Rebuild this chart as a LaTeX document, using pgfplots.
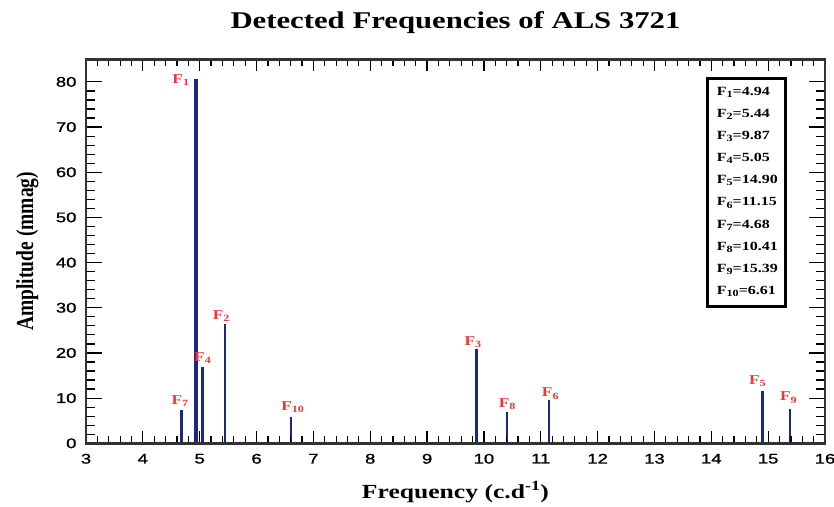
\documentclass[border=0pt]{standalone}
\usepackage{fontspec}
\setmainfont{Liberation Serif}[FakeStretch=1.28]
\newfontfamily\plainserif{Liberation Serif}
\newfontfamily\tickfont{Liberation Sans}[FakeStretch=1.32,FakeBold=1.2]
\usepackage{graphicx}
\usepackage{pgfplots}
\pgfplotsset{compat=1.18}
\definecolor{barblue}{RGB}{25,40,130}
\definecolor{labred}{RGB}{235,55,55}
\newcommand{\sub}[1]{\raisebox{-0.35ex}{\fontsize{9.5}{10}\selectfont #1}}
\tikzset{
  lab/.style={font=\bfseries\fontsize{13.5}{14}\selectfont, text=labred, inner sep=0pt},
  leg/.style={font=\bfseries\fontsize{12.5}{13}\selectfont, inner sep=0pt, anchor=base west},
}
\begin{document}
\begin{tikzpicture}
\path[use as bounding box] (-86pt,-62.7pt) rectangle (748pt,443.3pt);
\begin{axis}[
  at={(0pt,0pt)}, anchor=south west,
  scale only axis, width=739pt, height=384pt,
  xmin=3, xmax=16, ymin=0, ymax=85,
  xtick={3,4,...,16}, ytick={0,10,...,80},
  minor x tick num=4, minor y tick num=4,
  tick align=inside,
  axis on top,
  axis line style={line width=2.5pt, black!80},
  every tick/.style={black, line width=1.2pt},
  xtick style={/pgfplots/major tick length=12pt,/pgfplots/minor tick length=7pt},
  ytick style={/pgfplots/major tick length=16pt,/pgfplots/minor tick length=9pt},
  /pgf/number format/assume math mode=true,
  ticklabel style={font=\tickfont\fontsize{14}{14}\selectfont},
  xticklabel style={yshift=-7pt},
  yticklabel style={xshift=-6pt},
  title={Detected Frequencies of ALS 3721},
  title style={font=\bfseries\fontsize{24}{26}\selectfont, at={(axis description cs:0.5,1)}, anchor=base, yshift=24.5pt},
  xlabel={Frequency (c.d\textsuperscript{-1})},
  xlabel style={font=\bfseries\fontsize{20}{22}\selectfont, at={(axis description cs:0.5,0)}, anchor=base, yshift=-54.7pt},
  ylabel={\scalebox{1}[1.25]{Amplitude (mmag)}},
  ylabel style={font=\plainserif\bfseries\fontsize{19.5}{21}\selectfont, at={(axis description cs:-0.0717,0.5)}, anchor=base},
]
\addplot[ycomb, barblue, line width=4pt] coordinates {(4.94,80.6)};
\addplot[ycomb, barblue, line width=3.3pt] coordinates {(4.68,7.4)};
\addplot[ycomb, barblue, line width=2.3pt] coordinates {
  (5.44,26.4) (9.87,20.9) (5.05,16.9) (14.90,11.6) (11.15,9.5)
  (10.41,6.9) (15.39,7.5) (6.61,5.9)};

\node[lab, anchor=south east, xshift=-7pt, yshift=-7pt] at (axis cs:4.94,80.6) {F\sub{1}};
\node[lab, anchor=south, xshift=-3.5pt, yshift=2pt] at (axis cs:5.44,26.4) {F\sub{2}};
\node[lab, anchor=south, xshift=-3.7pt, yshift=1pt] at (axis cs:9.87,20.9) {F\sub{3}};
\node[lab, anchor=south, xshift=0pt, yshift=3pt] at (axis cs:5.05,16.9) {F\sub{4}};
\node[lab, anchor=south, xshift=-5pt, yshift=4pt] at (axis cs:14.90,11.6) {F\sub{5}};
\node[lab, anchor=south, xshift=1pt, yshift=1pt] at (axis cs:11.15,9.5) {F\sub{6}};
\node[lab, anchor=south, xshift=-1.5pt, yshift=3pt] at (axis cs:4.68,7.4) {F\sub{7}};
\node[lab, anchor=south, xshift=0pt, yshift=2pt] at (axis cs:10.41,6.9) {F\sub{8}};
\node[lab, anchor=south, xshift=-2pt, yshift=6pt] at (axis cs:15.39,7.5) {F\sub{9}};
\node[lab, anchor=south, xshift=1.5pt, yshift=4pt] at (axis cs:6.61,5.9) {F\sub{10}};

\draw[line width=3.5pt, black] (rel axis cs:0.8413,0.3561) rectangle (rel axis cs:0.9462,0.9501);
\node[leg] at (rel axis cs:0.8534,0.9070) {F\sub{1}=4.94};
\node[leg] at (rel axis cs:0.8534,0.8492) {F\sub{2}=5.44};
\node[leg] at (rel axis cs:0.8534,0.7914) {F\sub{3}=9.87};
\node[leg] at (rel axis cs:0.8534,0.7336) {F\sub{4}=5.05};
\node[leg] at (rel axis cs:0.8534,0.6758) {F\sub{5}=14.90};
\node[leg] at (rel axis cs:0.8534,0.6180) {F\sub{6}=11.15};
\node[leg] at (rel axis cs:0.8534,0.5601) {F\sub{7}=4.68};
\node[leg] at (rel axis cs:0.8534,0.5023) {F\sub{8}=10.41};
\node[leg] at (rel axis cs:0.8534,0.4445) {F\sub{9}=15.39};
\node[leg] at (rel axis cs:0.8534,0.3867) {F\sub{10}=6.61};
\end{axis}
\end{tikzpicture}
\end{document}
